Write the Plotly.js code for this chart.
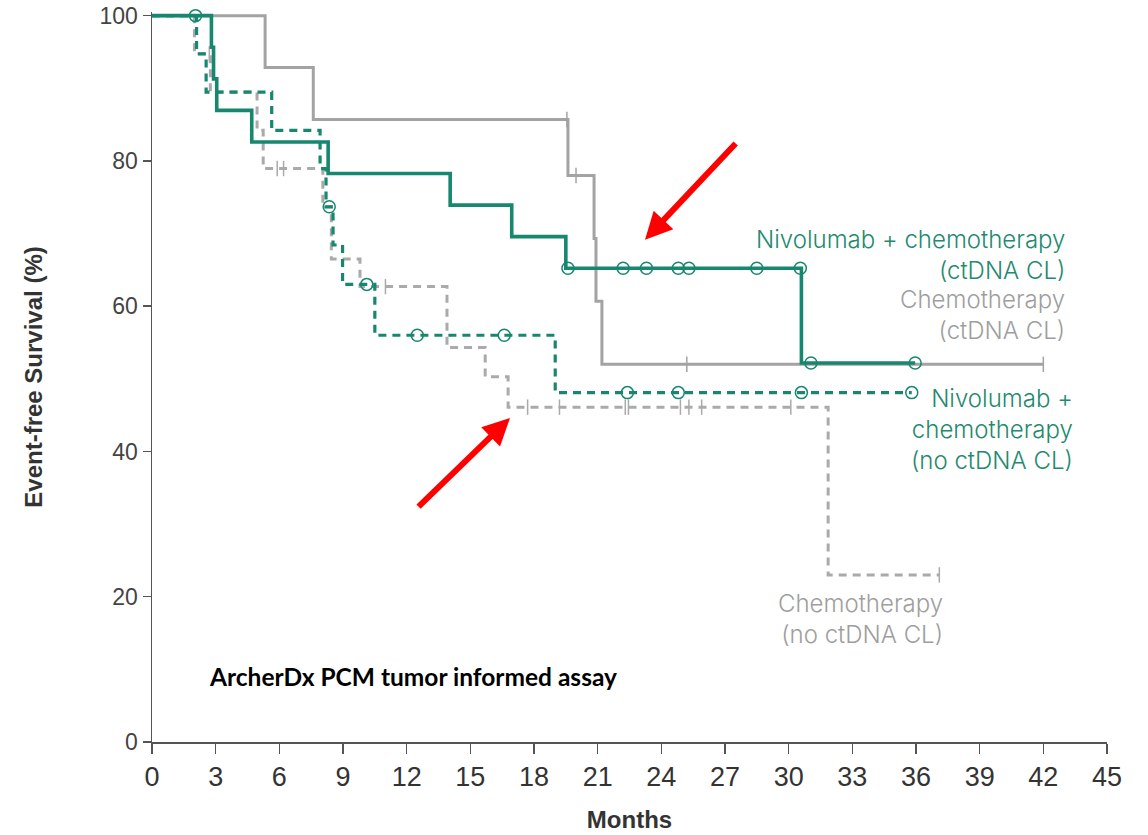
<!DOCTYPE html>
<html>
<head>
<meta charset="utf-8">
<script src="https://cdn.plot.ly/plotly-3.0.1.min.js"></script>
<style>html,body{margin:0;padding:0;background:#fff;}#chart{width:1148px;height:835px;}</style>
</head>
<body>
<div id="chart"></div>
<script>
// ---- Data (months, event-free survival %) ----
// Nivolumab + chemotherapy (ctDNA CL) — solid green
const nivoCL_t = [0, 2.8, 2.9, 3.05, 4.7, 8.3, 14.05, 16.95, 19.5, 30.6, 35.96];
const nivoCL_s = [100, 95.65, 91.3, 86.96, 82.61, 78.26, 73.91, 69.57, 65.22, 52.17, 52.17];
const nivoCL_cens = [19.6, 22.2, 23.3, 24.8, 25.3, 28.5, 30.55, 31.05, 35.96];

// Chemotherapy (ctDNA CL) — solid grey
const chemoCL_t = [0, 5.33, 7.6, 19.6, 20.83, 20.92, 21.2, 42.0];
const chemoCL_s = [100, 92.86, 85.71, 78.0, 69.33, 60.67, 52.0, 52.0];
const chemoCL_cens = [19.55, 19.98, 25.2, 42.0];

// Nivolumab + chemotherapy (no ctDNA CL) — dashed green
const nivoNo_t = [0, 2.1, 2.55, 5.64, 7.92, 8.2, 8.53, 8.98, 10.5, 19.0, 35.8];
const nivoNo_s = [100, 94.74, 89.47, 84.21, 78.95, 73.68, 68.42, 63.0, 56.0, 48.1, 48.1];
const nivoNo_cens = [2.05, 8.35, 10.12, 12.5, 16.6, 22.4, 24.8, 30.6, 35.8];

// Chemotherapy (no ctDNA CL) — dashed grey
const chemoNo_t = [0, 2.0, 2.75, 4.95, 5.24, 8.05, 8.45, 9.8, 13.9, 15.7, 16.78, 31.86, 37.1];
const chemoNo_s = [100, 94.74, 89.47, 84.21, 78.95, 73.7, 66.5, 62.7, 54.3, 50.3, 46.1, 23.0, 23.0];
const chemoNo_cens = [2.7, 5.9, 6.2, 11.0, 17.7, 19.2, 22.3, 22.45, 24.9, 25.3, 25.9, 30.1, 37.1];

const xTicks = [0, 3, 6, 9, 12, 15, 18, 21, 24, 27, 30, 33, 36, 39, 42, 45];
const yTicks = [0, 20, 40, 60, 80, 100];

const seriesLabels = {
  nivoCL: 'Nivolumab + chemotherapy<br>(ctDNA CL)',
  chemoCL: 'Chemotherapy<br>(ctDNA CL)',
  nivoNo: 'Nivolumab +<br>chemotherapy<br>(no ctDNA CL)',
  chemoNo: 'Chemotherapy<br>(no ctDNA CL)'
};

// ---- Styles ----
const GREEN = '#17876f';
const GREY = '#a3a3a3';
const GREY_D = '#aaaaaa';
const TXT_GREEN = '#23896f';
const TXT_GREY = '#9e9e9e';

function survAt(times, surv, t) {
  let s = surv[0];
  for (let i = 0; i < times.length; i++) { if (times[i] <= t) s = surv[i]; }
  return s;
}

function stepTrace(t, s, color, width, dash, name) {
  return { x: t, y: s, type: 'scatter', mode: 'lines', name: name,
    line: { shape: 'hv', color: color, width: width, dash: dash }, hoverinfo: 'skip', showlegend: false };
}
function censTrace(cens, t, s, color, symbol, size) {
  return { x: cens, y: cens.map(c => survAt(t, s, c)), type: 'scatter', mode: 'markers',
    marker: { symbol: symbol, size: size, color: color, line: { color: color, width: 1.5 } },
    hoverinfo: 'skip', showlegend: false, cliponaxis: false };
}

const traces = [
  stepTrace(chemoNo_t, chemoNo_s, GREY_D, 3, '8px,6px', 'Chemotherapy (no ctDNA CL)'),
  censTrace(chemoNo_cens, chemoNo_t, chemoNo_s, GREY_D, 'line-ns-open', 11),
  stepTrace(chemoCL_t, chemoCL_s, GREY, 3, 'solid', 'Chemotherapy (ctDNA CL)'),
  censTrace(chemoCL_cens, chemoCL_t, chemoCL_s, GREY, 'line-ns-open', 11),
  stepTrace(nivoNo_t, nivoNo_s, GREEN, 3.2, '8px,6px', 'Nivolumab + chemotherapy (no ctDNA CL)'),
  censTrace(nivoNo_cens, nivoNo_t, nivoNo_s, GREEN, 'circle-open', 12),
  stepTrace(nivoCL_t, nivoCL_s, GREEN, 3.6, 'solid', 'Nivolumab + chemotherapy (ctDNA CL)'),
  censTrace(nivoCL_cens, nivoCL_t, nivoCL_s, GREEN, 'circle-open', 12)
];

const labelFont = (c) => ({ family: 'Inter, "Liberation Sans", Arial, sans-serif', size: 24, color: c, weight: 300 });

const layout = {
  width: 1148, height: 835,
  margin: { l: 152, r: 41, t: 12, b: 93 },
  paper_bgcolor: '#ffffff', plot_bgcolor: '#ffffff',
  showlegend: false,
  xaxis: {
    range: [0, 45], tickvals: xTicks, ticktext: xTicks.map(String),
    showgrid: false, zeroline: false, showline: true, linecolor: '#555', linewidth: 1.5,
    ticks: 'outside', ticklen: 10, tickwidth: 1.5, tickcolor: '#555',
    tickfont: { family: '"Liberation Sans Narrow", "Arial Narrow", "Liberation Sans", sans-serif', size: 27, color: '#333' },
    title: { text: 'Months', standoff: 20, font: { family: '"Liberation Sans", Arial, sans-serif', size: 24, color: '#333', weight: 700 } },
    automargin: false
  },
  yaxis: {
    range: [0, 100.5], tickvals: yTicks, ticktext: yTicks.map(String),
    showgrid: false, zeroline: false, showline: true, linecolor: '#555', linewidth: 1.5,
    ticks: 'outside', ticklen: 8, tickwidth: 1.5, tickcolor: '#555',
    tickfont: { family: '"Liberation Sans", Arial, sans-serif', size: 23, color: '#444' },
    title: { text: 'Event-free Survival (%)', standoff: 50, font: { family: '"Liberation Sans", Arial, sans-serif', size: 24, color: '#333', weight: 700 } },
    automargin: false
  },
  annotations: [
    { x: 43.12, y: 67.1, xref: 'x', yref: 'y', text: seriesLabels.nivoCL, showarrow: false, xanchor: 'right', yanchor: 'middle', align: 'right', font: labelFont(TXT_GREEN) },
    { x: 43.12, y: 58.8, xref: 'x', yref: 'y', text: seriesLabels.chemoCL, showarrow: false, xanchor: 'right', yanchor: 'middle', align: 'right', font: labelFont(TXT_GREY) },
    { x: 43.5, y: 43.0, xref: 'x', yref: 'y', text: seriesLabels.nivoNo, showarrow: false, xanchor: 'right', yanchor: 'middle', align: 'right', font: labelFont(TXT_GREEN) },
    { x: 37.37, y: 16.9, xref: 'x', yref: 'y', text: seriesLabels.chemoNo, showarrow: false, xanchor: 'right', yanchor: 'middle', align: 'right', font: labelFont(TXT_GREY) },
    { x: 2.6, y: 8.95, xref: 'x', yref: 'y', text: '<b>ArcherDx PCM tumor informed assay</b>', showarrow: false, xanchor: 'left', yanchor: 'middle',
      font: { family: 'Lato, "Open Sans", sans-serif', size: 24.5, color: '#000', weight: 700 } },
    { x: 23.23, y: 69.15, ax: 27.57, ay: 82.6, xref: 'x', yref: 'y', axref: 'x', ayref: 'y', text: '', showarrow: true,
      arrowcolor: '#ff0000', arrowwidth: 6, arrowhead: 2, arrowsize: 0.9, standoff: 0 },
    { x: 16.87, y: 44.6, ax: 12.49, ay: 32.2, xref: 'x', yref: 'y', axref: 'x', ayref: 'y', text: '', showarrow: true,
      arrowcolor: '#ff0000', arrowwidth: 6, arrowhead: 2, arrowsize: 0.9, standoff: 0 }
  ]
};

Plotly.newPlot('chart', traces, layout, { staticPlot: true, displayModeBar: false });
</script>
</body>
</html>
